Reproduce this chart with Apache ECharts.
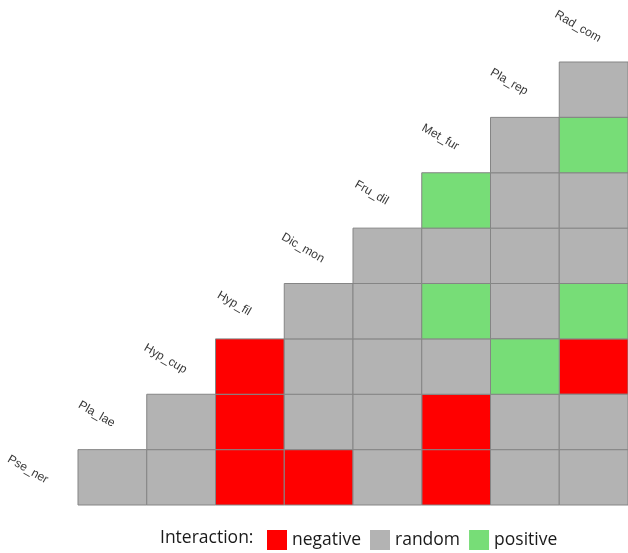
<!DOCTYPE html>
<html>
<head>
<meta charset="utf-8">
<script src="https://cdn.jsdelivr.net/npm/echarts@6/dist/echarts.min.js"></script>
<style>
  html, body { margin: 0; padding: 0; background: #fff; }
  #chart { width: 628px; height: 553px; }
</style>
</head>
<body>
<div id="chart"></div>
<script>
// species along the diagonal, bottom-left to top-right
const species = ['Pse_ner', 'Pla_lae', 'Hyp_cup', 'Hyp_fil', 'Dic_mon', 'Fru_dil', 'Met_fur', 'Pla_rep', 'Rad_com'];

// interaction of species[i] with species[i+1..8], one list per row (bottom row first)
const N = 'negative', R = 'random', P = 'positive';
const interactions = [
    [R, R, N, N, R, N, R, R],
    [R, N, R, R, N, R, R],
    [N, R, R, R, P, N],
    [R, R, P, R, P],
    [R, R, R, R],
    [P, R, R],
    [R, P],
    [R]
];

const types = ['negative', 'random', 'positive'];
const colors = {negative: '#ff0000', random: '#b3b3b3', positive: '#77dd77'};

const chart = echarts.init(document.getElementById('chart'));

function cellData(type) {
    const out = [];
    interactions.forEach((row, r) => {
        row.forEach((t, k) => {
            if (t === type) out.push([r + k, r]);
        });
    });
    return out;
}

function renderCell(params, api) {
    const x = api.value(0), y = api.value(1);
    const p0 = api.coord([x, y + 1]);
    const p1 = api.coord([x + 1, y]);
    return {
        type: 'rect',
        shape: {x: p0[0], y: p0[1], width: p1[0] - p0[0], height: p1[1] - p0[1]},
        style: {fill: api.visual('color'), stroke: '#858585', lineWidth: 1}
    };
}

const cellSeries = types.map(t => ({
    name: t,
    type: 'custom',
    renderItem: renderCell,
    encode: {x: 0, y: 1},
    itemStyle: {color: colors[t]},
    data: cellData(t)
}));

const hiddenAxis = {
    type: 'value', min: 0, max: 8,
    axisLine: {show: false}, axisTick: {show: false},
    axisLabel: {show: false}, splitLine: {show: false}
};

chart.setOption({
    animation: false,
    backgroundColor: '#ffffff',
    title: {
        text: 'Interaction:',
        left: 155, top: 524,
        textStyle: {fontFamily: 'Open Sans', fontSize: 17.5, fontWeight: 'normal', color: '#1a1a1a'}
    },
    legend: {
        data: types,
        left: 262, top: 525,
        icon: 'rect',
        itemWidth: 20, itemHeight: 20, itemGap: 9,
        selectedMode: false,
        textStyle: {fontFamily: 'Open Sans', fontSize: 17.5, color: '#1a1a1a'}
    },
    grid: {left: 78, right: 0, top: 62, bottom: 48},
    xAxis: hiddenAxis,
    yAxis: hiddenAxis,
    series: cellSeries.concat([{
        type: 'scatter',
        symbolSize: 0,
        clip: false,
        silent: true,
        data: species.map((s, i) => ({name: s, value: [i - 0.73, i + 0.64]})),
        label: {
            show: true,
            position: 'inside',
            rotate: -30,
            formatter: '{b}',
            fontFamily: 'Liberation Sans',
            fontSize: 12,
            color: '#000'
        }
    }])
});
</script>
</body>
</html>
